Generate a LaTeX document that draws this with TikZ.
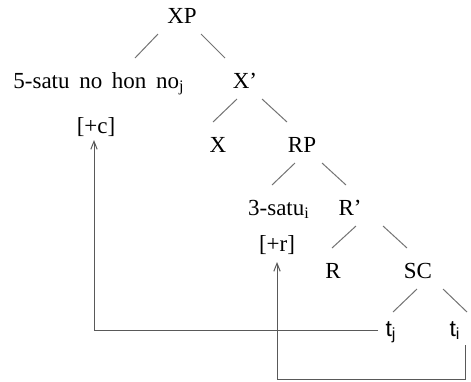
\documentclass[tikz,border=0pt]{standalone}
\usepackage{fontspec}
\setmainfont{Liberation Serif}
\setsansfont{Liberation Sans}
\usetikzlibrary{arrows.meta}

\begin{document}
\begin{tikzpicture}[x=0.5pt,y=-0.5pt,
    lbl/.style={inner sep=0pt,anchor=base,font=\fontsize{11.5}{13}\selectfont},
    trc/.style={lbl,font=\fontsize{11.5}{13}\selectfont\sffamily},
    branch/.style={draw=black!55,line width=0.5pt},
    mv/.style={draw=black!65,line width=0.5pt},
    mvarrow/.style={mv,-{Straight Barb[length=4pt,width=3.2pt]}}]

\useasboundingbox (0,0) rectangle (471,381);

% ===== Nodes =====
\node[lbl] (XP) at (182,23) {XP};

\node[lbl] (sat5) at (99,88) {5-satu\hspace{0.42em}no\hspace{0.42em}hon\hspace{0.42em}no\textsubscript{j}};
\node[lbl] (Xbar) at (245,88) {X'};

\node[lbl] (fc) at (96,133) {[+c]};
\node[lbl] (X) at (218,152) {X};
\node[lbl] (RP) at (302,152) {RP};

\node[lbl] (sat3) at (279,215) {3-satu\textsubscript{i}};
\node[lbl] (Rbar) at (350,215) {R'};

\node[lbl] (fr) at (277,251) {[+r]};
\node[lbl] (R) at (333,278) {R};
\node[lbl] (SC) at (418,278) {SC};

\node[trc] (tj) at (391,336) {t\textsubscript{j}};
\node[trc] (ti) at (455,336) {t\textsubscript{i}};

% ===== Branches =====
\draw[branch] ([shift={(-24,11)}]XP.base) -- ([shift={(36,-30)}]sat5.base);
\draw[branch] ([shift={(19,11)}]XP.base) -- ([shift={(-20,-30)}]Xbar.base);

\draw[branch] ([shift={(-8,11)}]Xbar.base) -- ([shift={(-5,-30)}]X.base);
\draw[branch] ([shift={(17,11)}]Xbar.base) -- ([shift={(-15,-30)}]RP.base);

\draw[branch] ([shift={(-7,11)}]RP.base) -- ([shift={(-7,-30)}]sat3.base);
\draw[branch] ([shift={(20,11)}]RP.base) -- ([shift={(-4,-30)}]Rbar.base);

\draw[branch] ([shift={(6,11)}]Rbar.base) -- ([shift={(-1,-30)}]R.base);
\draw[branch] ([shift={(33,11)}]Rbar.base) -- ([shift={(-11,-30)}]SC.base);

\draw[branch] ([shift={(-1,11)}]SC.base) -- ([shift={(2,-24)}]tj.base);
\draw[branch] ([shift={(25,11)}]SC.base) -- ([shift={(12,-24)}]ti.base);

% ===== Movement =====
\draw[mvarrow] ([shift={(-7,-6)}]tj.base west) -| ([shift={(-2,7)}]fc.base);
\draw[mvarrow] ([shift={(10,9)}]ti.base) -- ++(0,34) -| ([shift={(0,11)}]fr.base);

\end{tikzpicture}
\end{document}
